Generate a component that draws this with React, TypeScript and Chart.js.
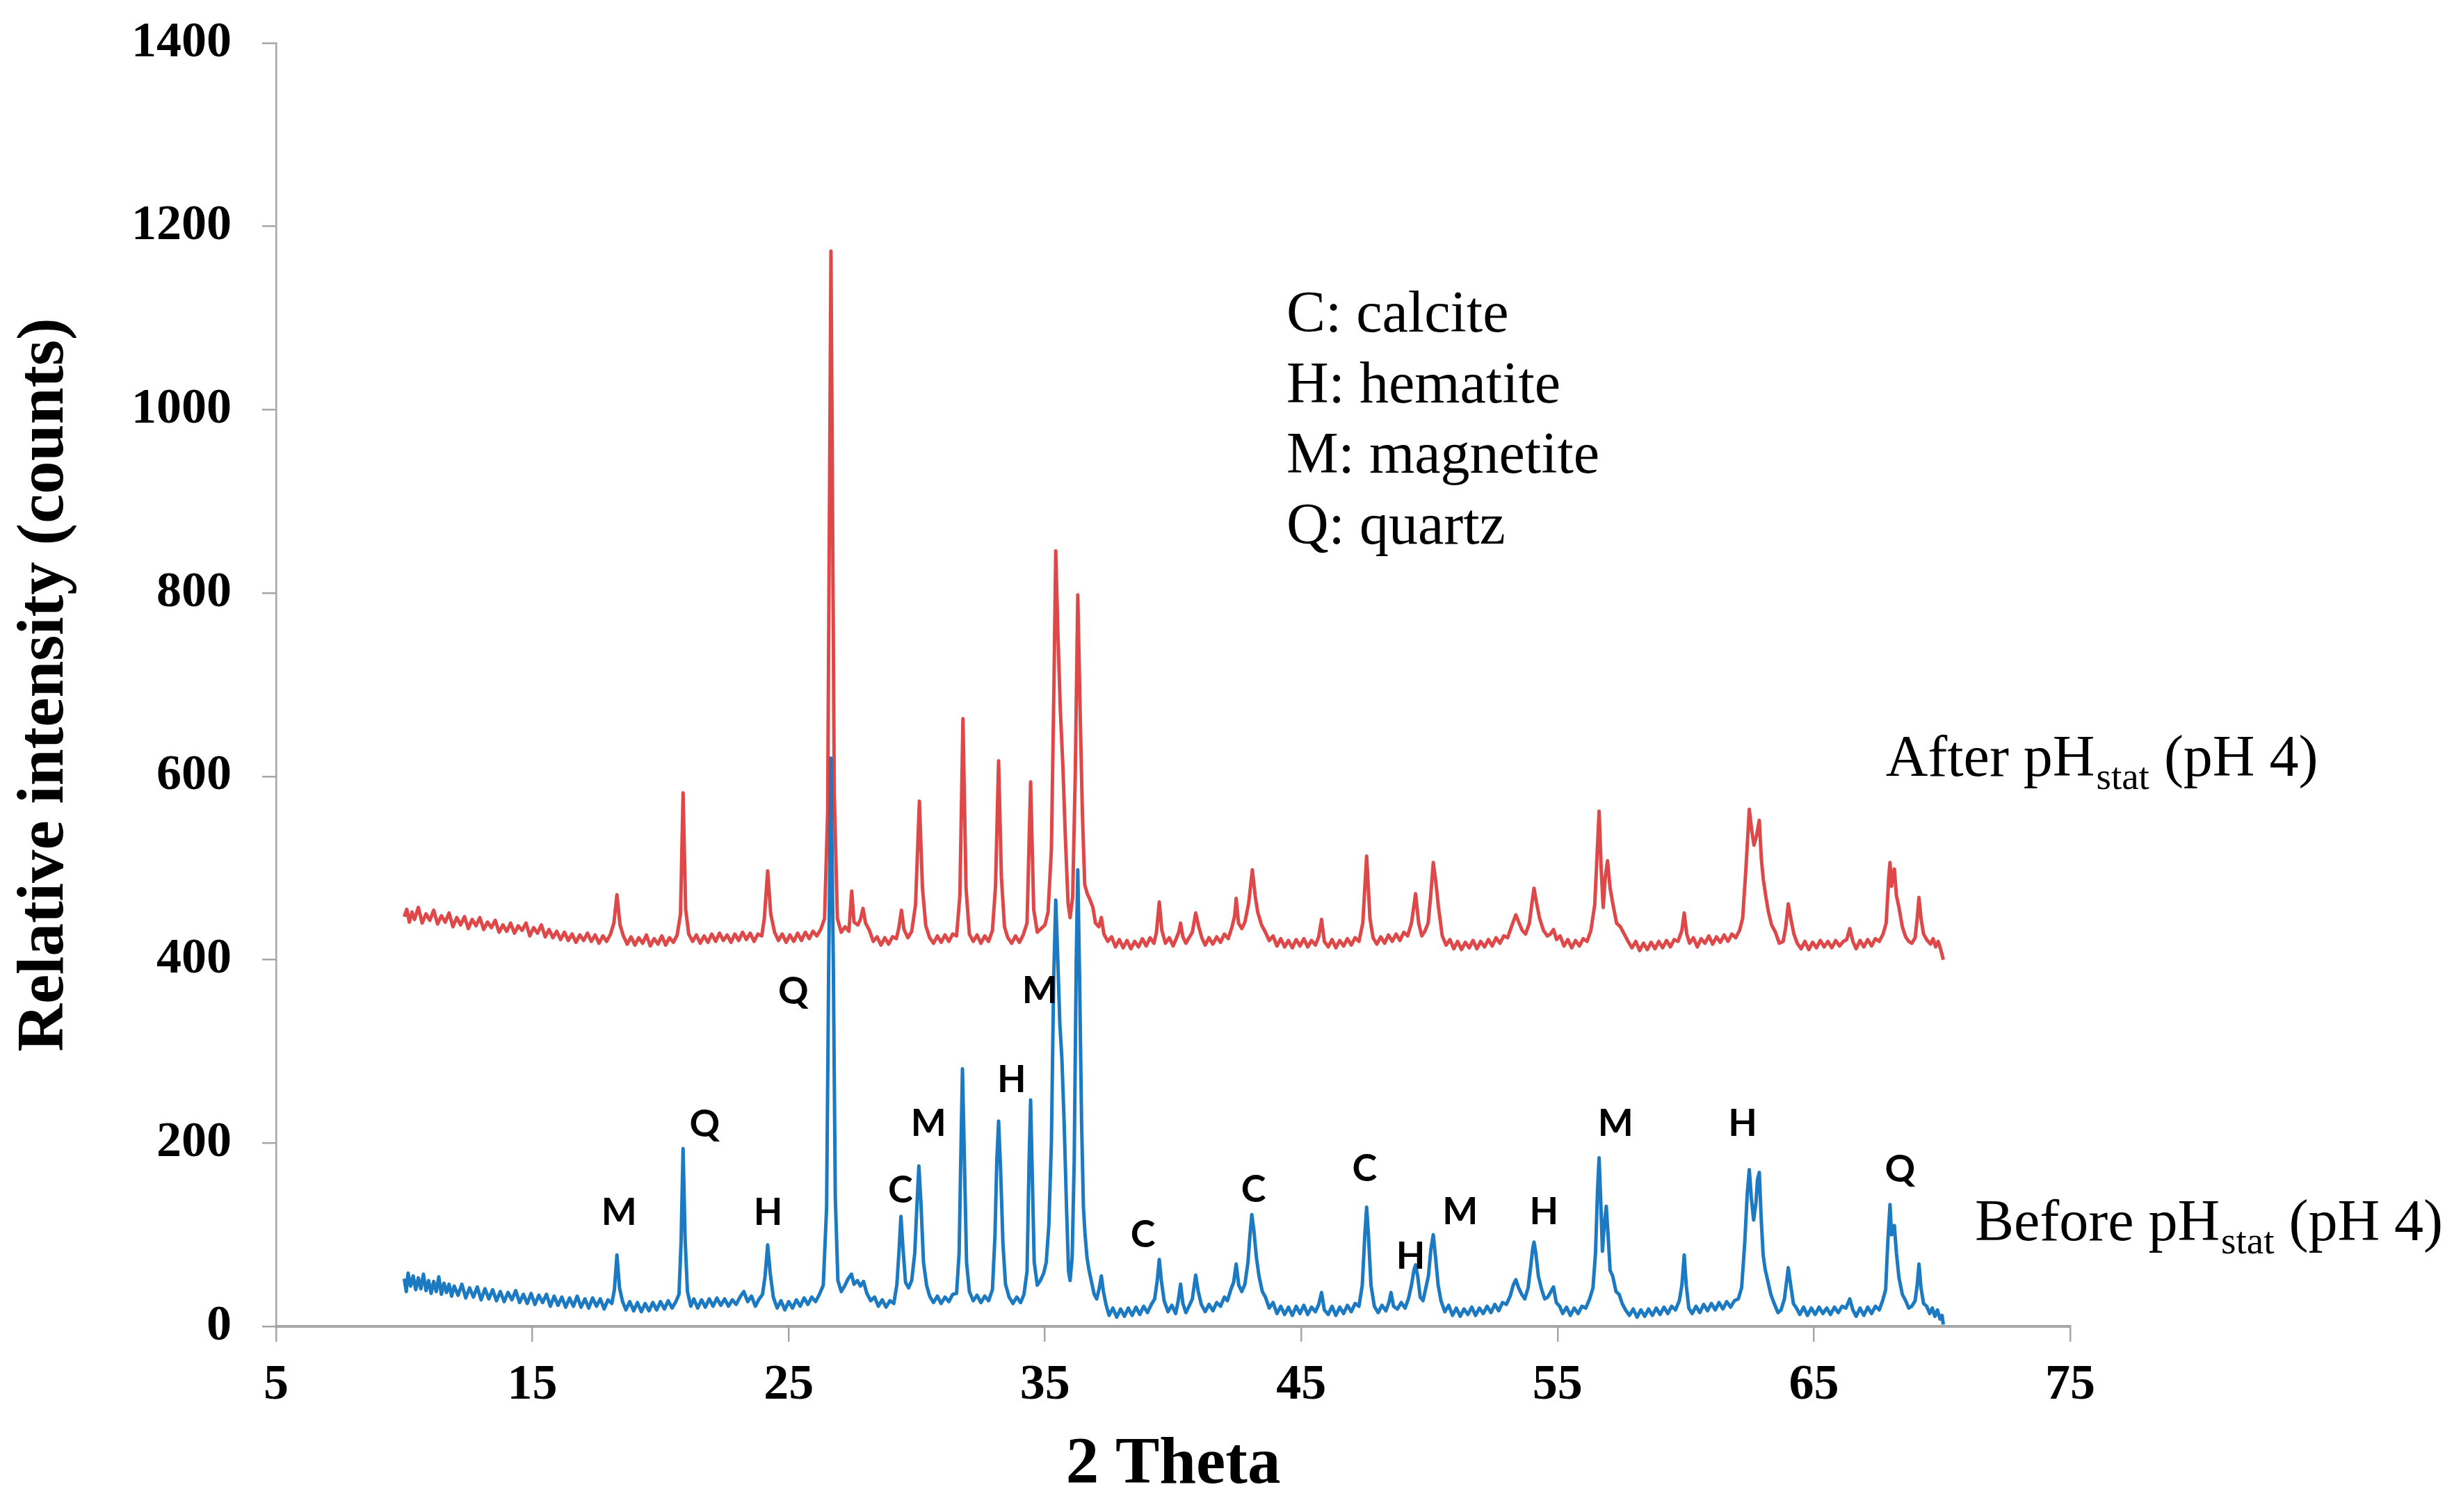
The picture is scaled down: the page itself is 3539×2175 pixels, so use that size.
import { useEffect, useRef } from "react";
import { Chart, ChartConfiguration, Plugin } from "chart.js/auto";

// 2 theta (deg) vs relative intensity (counts)
const afterPattern: [number, number][] = [
  [10.0, 447], [10.1, 455], [10.2, 441], [10.3, 452], [10.4, 444], [10.55, 457], [10.7, 440], [10.85, 450],
  [11.0, 443], [11.15, 454], [11.3, 439], [11.45, 448], [11.6, 441], [11.75, 451], [11.9, 436], [12.05, 446],
  [12.2, 438], [12.35, 447], [12.5, 434], [12.65, 444], [12.8, 437], [12.95, 446], [13.1, 433], [13.25, 441],
  [13.4, 435], [13.55, 443], [13.7, 430], [13.85, 438], [14.0, 431], [14.15, 440], [14.3, 429], [14.45, 437],
  [14.6, 432], [14.75, 440], [14.9, 426], [15.05, 435], [15.2, 429], [15.35, 438], [15.5, 425], [15.65, 433],
  [15.8, 424], [15.95, 431], [16.1, 422], [16.25, 430], [16.4, 421], [16.55, 428], [16.7, 419], [16.85, 427],
  [17.0, 421], [17.15, 429], [17.3, 420], [17.45, 427], [17.6, 418], [17.75, 426], [17.9, 420], [18.05, 428],
  [18.18, 440], [18.3, 471], [18.42, 438], [18.55, 426], [18.7, 417], [18.85, 425], [19.0, 416], [19.15, 424],
  [19.3, 418], [19.45, 427], [19.6, 415], [19.75, 423], [19.9, 417], [20.05, 426], [20.2, 416], [20.35, 424],
  [20.5, 419], [20.65, 427], [20.78, 450], [20.88, 582], [20.98, 455], [21.1, 428], [21.25, 420], [21.4, 427],
  [21.55, 418], [21.7, 426], [21.85, 419], [22.0, 428], [22.15, 420], [22.3, 429], [22.45, 421], [22.6, 427],
  [22.75, 419], [22.9, 428], [23.05, 421], [23.2, 430], [23.35, 422], [23.5, 429], [23.65, 420], [23.8, 428],
  [23.95, 426], [24.05, 445], [24.18, 497], [24.3, 450], [24.45, 430], [24.6, 421], [24.75, 428], [24.9, 419],
  [25.05, 427], [25.2, 420], [25.35, 429], [25.5, 421], [25.65, 430], [25.8, 423], [25.95, 431], [26.1, 426],
  [26.25, 433], [26.4, 445], [26.52, 560], [26.65, 1173], [26.78, 580], [26.9, 445], [27.05, 430], [27.2, 436],
  [27.35, 431], [27.46, 475], [27.55, 441], [27.7, 438], [27.8, 444], [27.9, 456], [28.0, 440], [28.15, 432],
  [28.3, 420], [28.45, 425], [28.6, 416], [28.75, 424], [28.9, 417], [29.05, 425], [29.2, 423], [29.3, 435],
  [29.4, 454], [29.5, 433], [29.65, 424], [29.8, 431], [29.95, 460], [30.1, 573], [30.22, 478], [30.35, 437],
  [30.5, 424], [30.65, 418], [30.8, 426], [30.95, 419], [31.1, 427], [31.25, 420], [31.4, 428], [31.55, 426],
  [31.68, 470], [31.8, 663], [31.92, 478], [32.05, 428], [32.2, 420], [32.35, 427], [32.5, 418], [32.65, 426],
  [32.8, 420], [32.95, 432], [33.07, 480], [33.19, 617], [33.3, 490], [33.42, 436], [33.55, 424], [33.7, 418],
  [33.85, 426], [34.0, 419], [34.15, 427], [34.3, 440], [34.44, 594], [34.56, 455], [34.7, 430], [34.85, 434],
  [35.0, 438], [35.12, 452], [35.25, 520], [35.35, 700], [35.42, 846], [35.5, 760], [35.6, 672], [35.7, 610],
  [35.8, 530], [35.9, 462], [35.98, 446], [36.08, 468], [36.18, 600], [36.28, 798], [36.38, 660], [36.46, 560],
  [36.55, 482], [36.65, 472], [36.75, 466], [36.87, 457], [36.97, 440], [37.1, 436], [37.2, 446], [37.3, 428],
  [37.45, 420], [37.6, 425], [37.75, 414], [37.9, 422], [38.05, 413], [38.2, 421], [38.35, 412], [38.5, 420],
  [38.65, 414], [38.8, 423], [38.95, 415], [39.1, 424], [39.25, 418], [39.35, 430], [39.46, 463], [39.56, 432],
  [39.7, 418], [39.85, 424], [40.0, 415], [40.12, 423], [40.22, 430], [40.29, 440], [40.38, 425], [40.5, 418],
  [40.62, 424], [40.75, 430], [40.88, 451], [41.0, 436], [41.12, 424], [41.25, 416], [41.4, 424], [41.55, 417],
  [41.7, 425], [41.85, 419], [42.0, 428], [42.15, 423], [42.3, 436], [42.4, 448], [42.46, 467], [42.55, 440],
  [42.68, 434], [42.8, 441], [42.95, 462], [43.09, 498], [43.2, 470], [43.3, 452], [43.45, 438], [43.6, 430],
  [43.75, 421], [43.9, 426], [44.05, 415], [44.2, 423], [44.35, 414], [44.5, 421], [44.65, 413], [44.8, 422],
  [44.95, 415], [45.1, 423], [45.25, 414], [45.4, 421], [45.55, 416], [45.68, 425], [45.79, 444], [45.9, 420],
  [46.05, 414], [46.2, 422], [46.35, 413], [46.5, 421], [46.65, 415], [46.8, 423], [46.95, 416], [47.1, 424],
  [47.25, 420], [47.4, 440], [47.55, 513], [47.68, 445], [47.8, 424], [47.95, 417], [48.1, 425], [48.25, 418],
  [48.4, 427], [48.55, 420], [48.7, 428], [48.85, 421], [49.0, 430], [49.15, 426], [49.3, 440], [49.46, 472],
  [49.58, 440], [49.7, 426], [49.82, 431], [49.95, 440], [50.05, 470], [50.15, 506], [50.25, 485], [50.35, 458],
  [50.5, 426], [50.65, 416], [50.8, 422], [50.95, 412], [51.1, 420], [51.25, 411], [51.4, 419], [51.55, 413],
  [51.7, 421], [51.85, 412], [52.0, 420], [52.15, 414], [52.3, 422], [52.45, 415], [52.6, 424], [52.75, 418],
  [52.9, 426], [53.05, 424], [53.2, 436], [53.37, 449], [53.5, 440], [53.62, 432], [53.75, 428], [53.9, 440],
  [54.0, 462], [54.08, 478], [54.18, 462], [54.3, 445], [54.45, 432], [54.6, 426], [54.72, 428], [54.84, 433],
  [54.96, 422], [55.1, 426], [55.25, 415], [55.4, 422], [55.55, 413], [55.7, 421], [55.85, 415], [56.0, 423],
  [56.15, 420], [56.3, 432], [56.45, 460], [56.55, 520], [56.62, 562], [56.7, 500], [56.78, 457], [56.86, 490],
  [56.95, 508], [57.05, 478], [57.15, 462], [57.3, 440], [57.45, 436], [57.6, 428], [57.75, 420], [57.9, 413],
  [58.05, 420], [58.2, 410], [58.35, 418], [58.5, 411], [58.65, 419], [58.8, 412], [58.95, 420], [59.1, 413],
  [59.25, 421], [59.4, 414], [59.55, 422], [59.7, 420], [59.85, 432], [59.94, 451], [60.04, 428], [60.15, 418],
  [60.3, 424], [60.45, 414], [60.6, 423], [60.75, 418], [60.9, 426], [61.05, 417], [61.2, 425], [61.35, 419],
  [61.5, 427], [61.65, 420], [61.8, 428], [61.95, 424], [62.1, 432], [62.22, 445], [62.35, 500], [62.48, 564],
  [62.58, 540], [62.66, 525], [62.76, 535], [62.87, 552], [62.95, 510], [63.03, 487], [63.12, 470], [63.22, 453],
  [63.35, 438], [63.5, 430], [63.65, 418], [63.8, 420], [63.9, 435], [64.0, 461], [64.1, 445], [64.22, 428],
  [64.35, 418], [64.5, 412], [64.65, 420], [64.8, 411], [64.95, 419], [65.1, 413], [65.25, 421], [65.4, 414],
  [65.55, 420], [65.7, 413], [65.85, 421], [66.0, 415], [66.15, 420], [66.28, 422], [66.4, 434], [66.52, 420],
  [66.65, 412], [66.8, 421], [66.95, 414], [67.1, 422], [67.25, 415], [67.4, 423], [67.55, 420], [67.7, 428],
  [67.82, 440], [67.92, 490], [67.97, 506], [68.03, 480], [68.09, 495], [68.14, 499], [68.22, 470], [68.32, 457],
  [68.45, 436], [68.58, 425], [68.7, 420], [68.82, 418], [68.95, 424], [69.03, 445], [69.1, 468], [69.18, 445],
  [69.28, 428], [69.4, 422], [69.55, 417], [69.65, 423], [69.75, 414], [69.85, 420], [69.95, 411], [70.05, 400],
];

const beforePattern: [number, number][] = [
  [10.0, 52], [10.08, 38], [10.15, 58], [10.25, 44], [10.35, 55], [10.45, 40], [10.55, 53], [10.65, 41],
  [10.75, 57], [10.85, 39], [10.95, 50], [11.05, 36], [11.15, 49], [11.25, 38], [11.35, 54], [11.45, 35],
  [11.55, 47], [11.65, 37], [11.75, 46], [11.85, 33], [11.95, 44], [12.1, 34], [12.25, 46], [12.4, 31],
  [12.55, 42], [12.7, 32], [12.85, 43], [13.0, 29], [13.15, 41], [13.3, 30], [13.45, 40], [13.6, 28],
  [13.75, 38], [13.9, 27], [14.05, 37], [14.2, 29], [14.35, 39], [14.5, 26], [14.65, 35], [14.8, 25],
  [14.95, 36], [15.1, 24], [15.25, 34], [15.4, 26], [15.55, 35], [15.7, 22], [15.85, 33], [16.0, 23],
  [16.15, 32], [16.3, 21], [16.45, 31], [16.6, 22], [16.75, 33], [16.9, 21], [17.05, 30], [17.2, 20],
  [17.35, 31], [17.5, 22], [17.65, 30], [17.8, 19], [17.95, 29], [18.1, 25], [18.2, 40], [18.3, 78],
  [18.4, 42], [18.52, 27], [18.65, 18], [18.8, 27], [18.95, 17], [19.1, 26], [19.25, 16], [19.4, 25],
  [19.55, 17], [19.7, 26], [19.85, 18], [20.0, 27], [20.15, 19], [20.3, 28], [20.45, 20], [20.6, 27],
  [20.72, 35], [20.8, 90], [20.88, 194], [20.96, 95], [21.05, 38], [21.18, 22], [21.3, 30], [21.45, 20],
  [21.6, 29], [21.75, 21], [21.9, 30], [22.05, 22], [22.2, 31], [22.35, 23], [22.5, 30], [22.65, 22],
  [22.8, 29], [22.95, 24], [23.1, 32], [23.25, 38], [23.4, 27], [23.55, 33], [23.7, 22], [23.85, 30],
  [23.98, 35], [24.08, 55], [24.18, 89], [24.28, 58], [24.4, 32], [24.55, 20], [24.7, 28], [24.85, 18],
  [25.0, 27], [25.15, 20], [25.3, 29], [25.45, 22], [25.6, 31], [25.75, 24], [25.9, 32], [26.05, 27],
  [26.2, 35], [26.35, 45], [26.48, 130], [26.56, 390], [26.65, 620], [26.74, 400], [26.82, 140], [26.92, 50],
  [27.05, 38], [27.2, 45], [27.32, 52], [27.45, 57], [27.55, 46], [27.68, 50], [27.8, 44], [27.92, 49],
  [28.05, 36], [28.2, 28], [28.35, 32], [28.5, 22], [28.65, 29], [28.8, 21], [28.95, 28], [29.1, 25],
  [29.22, 45], [29.3, 80], [29.38, 120], [29.46, 85], [29.56, 48], [29.68, 42], [29.8, 50], [29.92, 80],
  [30.0, 130], [30.08, 175], [30.16, 135], [30.26, 70], [30.38, 45], [30.5, 33], [30.65, 26], [30.8, 33],
  [30.95, 25], [31.1, 32], [31.25, 27], [31.4, 35], [31.55, 36], [31.65, 80], [31.72, 190], [31.78, 281],
  [31.85, 190], [31.94, 70], [32.05, 38], [32.2, 28], [32.35, 34], [32.5, 26], [32.65, 33], [32.8, 28],
  [32.95, 40], [33.05, 100], [33.12, 180], [33.19, 224], [33.27, 170], [33.36, 90], [33.46, 46], [33.6, 32],
  [33.75, 25], [33.9, 32], [34.05, 26], [34.18, 35], [34.3, 60], [34.38, 180], [34.44, 247], [34.5, 170],
  [34.58, 70], [34.7, 45], [34.82, 50], [34.95, 58], [35.05, 70], [35.15, 110], [35.25, 200], [35.34, 380],
  [35.42, 465], [35.5, 400], [35.58, 330], [35.66, 292], [35.75, 220], [35.84, 130], [35.92, 60], [35.98, 50],
  [36.06, 75], [36.14, 180], [36.22, 400], [36.28, 498], [36.35, 380], [36.43, 220], [36.5, 130], [36.56, 102],
  [36.64, 75], [36.72, 61], [36.82, 48], [36.92, 35], [37.02, 30], [37.12, 42], [37.2, 55], [37.28, 38],
  [37.38, 24], [37.5, 12], [37.65, 20], [37.8, 10], [37.95, 19], [38.1, 11], [38.25, 20], [38.4, 12],
  [38.55, 21], [38.7, 13], [38.85, 22], [39.0, 15], [39.15, 24], [39.28, 30], [39.38, 50], [39.46, 73],
  [39.54, 50], [39.65, 28], [39.8, 16], [39.95, 23], [40.1, 14], [40.2, 28], [40.29, 46], [40.38, 25],
  [40.5, 15], [40.62, 22], [40.75, 30], [40.88, 56], [40.98, 38], [41.1, 24], [41.25, 16], [41.4, 24],
  [41.55, 17], [41.7, 26], [41.85, 22], [42.0, 32], [42.12, 28], [42.25, 40], [42.36, 48], [42.46, 68],
  [42.56, 45], [42.68, 38], [42.8, 46], [42.92, 70], [43.0, 100], [43.07, 122], [43.15, 105], [43.25, 75],
  [43.35, 55], [43.48, 38], [43.6, 32], [43.75, 20], [43.9, 26], [44.05, 14], [44.2, 22], [44.35, 13],
  [44.5, 21], [44.65, 12], [44.8, 22], [44.95, 14], [45.1, 23], [45.25, 13], [45.4, 21], [45.55, 16],
  [45.68, 24], [45.79, 37], [45.9, 18], [46.05, 13], [46.2, 22], [46.35, 12], [46.5, 21], [46.65, 14],
  [46.8, 23], [46.95, 16], [47.1, 25], [47.25, 22], [47.38, 45], [47.48, 100], [47.55, 130], [47.62, 100],
  [47.72, 45], [47.85, 22], [48.0, 15], [48.15, 23], [48.3, 17], [48.42, 26], [48.5, 37], [48.6, 22],
  [48.75, 19], [48.9, 26], [49.05, 20], [49.18, 30], [49.3, 45], [49.4, 62], [49.46, 67], [49.54, 55],
  [49.64, 32], [49.75, 28], [49.86, 42], [49.96, 55], [50.06, 85], [50.15, 100], [50.24, 75], [50.34, 45],
  [50.45, 28], [50.6, 16], [50.75, 23], [50.9, 12], [51.05, 20], [51.2, 11], [51.35, 19], [51.5, 13],
  [51.65, 21], [51.8, 12], [51.95, 20], [52.1, 14], [52.25, 22], [52.4, 15], [52.55, 24], [52.7, 17],
  [52.85, 26], [53.0, 24], [53.15, 33], [53.27, 45], [53.37, 51], [53.48, 42], [53.6, 35], [53.72, 30],
  [53.85, 42], [53.95, 65], [54.03, 85], [54.08, 92], [54.15, 80], [54.25, 55], [54.38, 40], [54.5, 30],
  [54.62, 32], [54.74, 38], [54.84, 43], [54.95, 26], [55.08, 22], [55.2, 14], [55.35, 21], [55.5, 12],
  [55.65, 20], [55.8, 14], [55.95, 22], [56.1, 20], [56.25, 30], [56.38, 42], [56.48, 80], [56.56, 150],
  [56.62, 184], [56.68, 140], [56.75, 82], [56.82, 110], [56.9, 131], [56.98, 95], [57.05, 61], [57.15, 55],
  [57.28, 38], [57.4, 35], [57.52, 25], [57.65, 18], [57.8, 12], [57.95, 19], [58.1, 10], [58.25, 18],
  [58.4, 11], [58.55, 19], [58.7, 12], [58.85, 20], [59.0, 13], [59.15, 21], [59.3, 14], [59.45, 22],
  [59.6, 18], [59.75, 28], [59.85, 45], [59.94, 78], [60.02, 45], [60.12, 20], [60.25, 14], [60.4, 22],
  [60.55, 15], [60.7, 24], [60.85, 17], [61.0, 25], [61.15, 18], [61.3, 26], [61.45, 19], [61.6, 27],
  [61.75, 21], [61.9, 28], [62.05, 30], [62.18, 42], [62.3, 90], [62.4, 145], [62.48, 171], [62.56, 140],
  [62.65, 116], [62.74, 135], [62.8, 160], [62.87, 168], [62.94, 120], [63.02, 78], [63.1, 62], [63.2, 50],
  [63.32, 35], [63.45, 25], [63.6, 15], [63.72, 18], [63.85, 30], [63.94, 50], [64.0, 64], [64.08, 48],
  [64.2, 25], [64.32, 20], [64.45, 13], [64.6, 21], [64.75, 12], [64.9, 20], [65.05, 13], [65.2, 21],
  [65.35, 14], [65.5, 20], [65.65, 13], [65.8, 21], [65.95, 15], [66.1, 22], [66.25, 20], [66.4, 30],
  [66.52, 18], [66.65, 11], [66.8, 20], [66.95, 12], [67.1, 21], [67.25, 14], [67.4, 22], [67.55, 18],
  [67.68, 28], [67.8, 40], [67.88, 90], [67.97, 133], [68.03, 100], [68.09, 108], [68.14, 110], [68.22, 80],
  [68.32, 53], [68.45, 35], [68.58, 28], [68.7, 20], [68.82, 22], [68.95, 28], [69.03, 45], [69.1, 68],
  [69.18, 42], [69.28, 25], [69.4, 22], [69.52, 14], [69.62, 20], [69.72, 11], [69.82, 18], [69.92, 8],
  [70.0, 12], [70.05, 2],
];

const thetaTicks = [5, 15, 25, 35, 45, 55, 65, 75];
const countTicks = [0, 200, 400, 600, 800, 1000, 1200, 1400];

// phase letters over the "before" pattern: [letter, 2theta, counts]
const peakLabels: [string, number, number][] = [
  ["M", 18.38, 124], ["Q", 21.72, 220], ["H", 24.2, 124], ["Q", 25.18, 365],
  ["C", 29.36, 148], ["M", 30.46, 221], ["H", 33.7, 269], ["M", 34.8, 366],
  ["C", 38.82, 100], ["C", 43.14, 149], ["C", 47.47, 172], ["H", 49.27, 76],
  ["M", 51.2, 125], ["H", 54.47, 125], ["M", 57.26, 221], ["H", 62.22, 221],
  ["Q", 68.36, 171],
];

const phaseKey = ["C: calcite", "H: hematite", "M: magnetite", "Q: quartz"];

const SERIF = '"Liberation Serif", "Times New Roman", serif';

function drawSubLabel(
  ctx: CanvasRenderingContext2D,
  parts: [string, string, string],
  x: number,
  y: number
) {
  const [head, sub, tail] = parts;
  ctx.font = `84px ${SERIF}`;
  ctx.fillText(head, x, y);
  let cx = x + ctx.measureText(head).width + 2;
  ctx.font = `55px ${SERIF}`;
  ctx.fillText(sub, cx, y + 19);
  cx += ctx.measureText(sub).width;
  ctx.font = `84px ${SERIF}`;
  ctx.fillText(tail, cx, y);
}

const textPlugin: Plugin = {
  id: "xrdText",
  afterDatasetsDraw(chart) {
    const { ctx } = chart;
    const xs = chart.scales.x;
    const ys = chart.scales.y;
    ctx.save();
    ctx.fillStyle = "#000";

    ctx.font = 'bold 54px Lato, "Open Sans", sans-serif';
    ctx.textAlign = "center";
    ctx.textBaseline = "middle";
    peakLabels.forEach(([t, th, c]) => {
      ctx.fillText(t, xs.getPixelForValue(th), ys.getPixelForValue(c));
    });

    ctx.textAlign = "left";
    ctx.textBaseline = "alphabetic";
    ctx.font = `84px ${SERIF}`;
    const keyX = xs.getPixelForValue(44.42);
    const keyY = ys.getPixelForValue(1085);
    phaseKey.forEach((line, i) => ctx.fillText(line, keyX, keyY + i * 101.5));

    drawSubLabel(ctx, ["After pH", "stat", " (pH 4)"], xs.getPixelForValue(67.8), ys.getPixelForValue(601));
    drawSubLabel(ctx, ["Before pH", "stat", " (pH 4)"], xs.getPixelForValue(71.28), ys.getPixelForValue(94));
    ctx.restore();
  },
};

export default function App() {
  const canvasRef = useRef<HTMLCanvasElement>(null);
  const chartRef = useRef<Chart | null>(null);

  useEffect(() => {
    document.body.style.margin = "0";
    if (!canvasRef.current) return;
    if (chartRef.current) chartRef.current.destroy();
    const ctx = canvasRef.current.getContext("2d");
    if (!ctx) return;

    const axisGrey = "#a6a6a6";

    const config: ChartConfiguration<"line"> = {
      type: "line",
      data: {
        datasets: [
          {
            // drawn on top, slightly see-through like the original
            label: "After pHstat (pH 4)",
            data: afterPattern.map(([x, y]) => ({ x, y })),
            borderColor: "rgba(216, 40, 40, 0.85)",
            borderWidth: 5,
            pointRadius: 0,
            tension: 0,
            borderJoinStyle: "round",
          },
          {
            label: "Before pHstat (pH 4)",
            data: beforePattern.map(([x, y]) => ({ x, y })),
            borderColor: "#1c7ac2",
            borderWidth: 5,
            pointRadius: 0,
            tension: 0,
            borderJoinStyle: "round",
          },
        ],
      },
      options: {
        responsive: true,
        maintainAspectRatio: false,
        animation: false,
        layout: { padding: { left: 0, top: 62, right: 562, bottom: 0 } },
        plugins: {
          legend: { display: false },
          tooltip: { enabled: false },
        },
        scales: {
          x: {
            type: "linear",
            min: 5,
            max: 75,
            afterBuildTicks: (scale) => {
              scale.ticks = thetaTicks.map((value) => ({ value }));
            },
            afterFit: (scale) => {
              scale.height = 267;
              scale.paddingLeft = 0;
              scale.paddingRight = 0;
            },
            ticks: {
              color: "#000",
              padding: 20,
              callback: (v) => String(v),
              font: { family: SERIF, size: 72, weight: "bold" },
            },
            grid: {
              drawOnChartArea: false,
              drawTicks: true,
              tickLength: 22,
              color: axisGrey,
              lineWidth: 2.5,
            },
            border: { display: true, color: axisGrey, width: 4 },
            title: {
              display: true,
              text: "2 Theta",
              color: "#000",
              font: { family: SERIF, size: 95, weight: "bold" },
              padding: { top: 0, bottom: 10 },
            },
          },
          y: {
            type: "linear",
            min: 0,
            max: 1400,
            afterBuildTicks: (scale) => {
              scale.ticks = countTicks.map((value) => ({ value }));
            },
            afterFit: (scale) => {
              scale.width = 397;
              scale.paddingTop = 0;
              scale.paddingBottom = 0;
            },
            ticks: {
              color: "#000",
              padding: 44,
              callback: (v) => String(v),
              font: { family: SERIF, size: 72, weight: "bold" },
            },
            grid: {
              drawOnChartArea: false,
              drawTicks: true,
              tickLength: 20,
              color: axisGrey,
              lineWidth: 2.5,
            },
            border: { display: true, color: axisGrey, width: 2.5 },
            title: {
              display: true,
              text: "Relative intensity (counts)",
              color: "#000",
              font: { family: SERIF, size: 95, weight: "bold" },
              padding: { top: 8, bottom: 0 },
            },
          },
        },
      },
      plugins: [textPlugin],
    };

    chartRef.current = new Chart(ctx, config);

    return () => {
      if (chartRef.current) {
        chartRef.current.destroy();
        chartRef.current = null;
      }
    };
  }, []);

  return (
    <div style={{ position: "relative", width: "3539px", height: "2175px" }}>
      <canvas ref={canvasRef} />
    </div>
  );
}
